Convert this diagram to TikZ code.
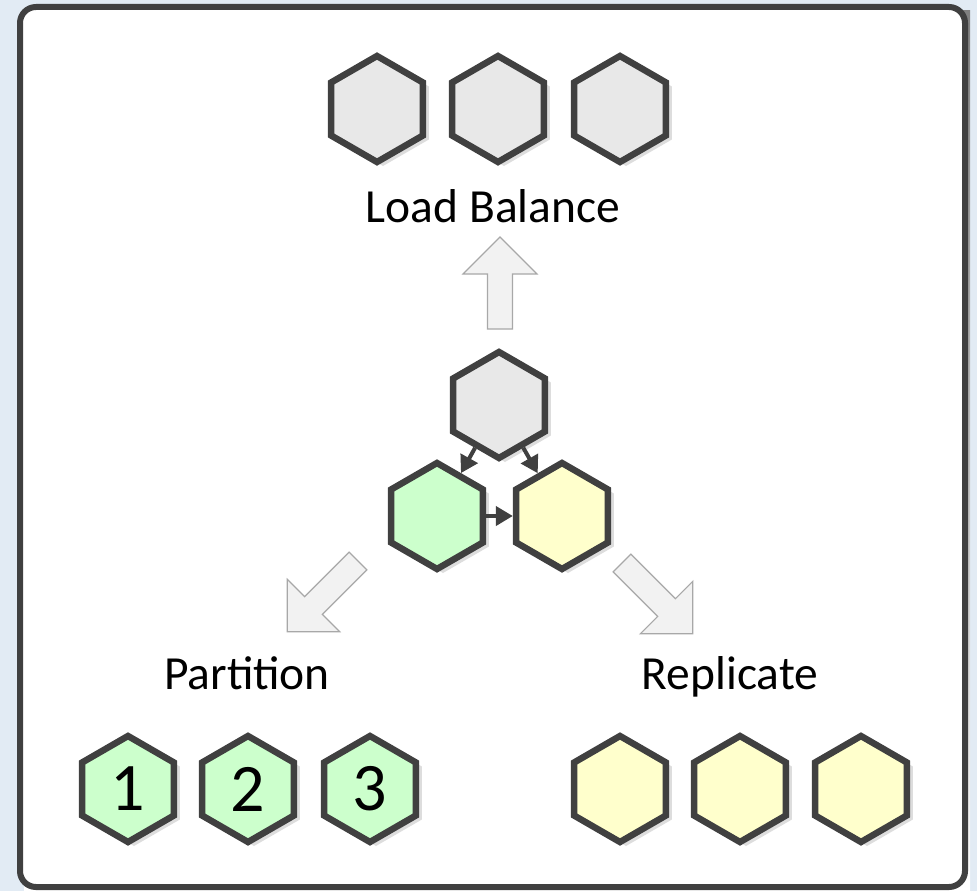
\documentclass[tikz,border=0pt]{standalone}
\usepackage{fontspec}
\setmainfont{Carlito}
\usetikzlibrary{shapes.geometric,arrows.meta,shadows}

\definecolor{pagebg}{HTML}{E2EBF4}
\definecolor{edge}{HTML}{404040}
\definecolor{hexgray}{HTML}{E8E8E8}
\definecolor{hexgreen}{HTML}{CCFFCC}
\definecolor{hexyellow}{HTML}{FFFFCC}
\definecolor{bigfill}{HTML}{F2F2F2}
\definecolor{bigline}{HTML}{A8A8A8}
\definecolor{shade}{HTML}{DDDDDD}

\begin{document}
\begin{tikzpicture}[x=1pt,y=-1pt,
  hex/.style={regular polygon, regular polygon sides=6, shape border rotate=30,
    minimum size=106pt, inner sep=0pt, draw=edge, line width=6.5pt,
    drop shadow={shadow xshift=6pt, shadow yshift=-4pt, fill=shade, opacity=1}},
  hexgr/.style={hex, fill=hexgray},
  hexgn/.style={hex, fill=hexgreen},
  hexyl/.style={hex, fill=hexyellow},
  digit/.style={font=\fontsize{68}{76}\selectfont},
  link/.style={draw=edge, line width=4pt, -{Triangle[length=17pt,width=19pt]}},
  tagtext/.style={font=\fontsize{47.5}{56}\selectfont, anchor=base, inner sep=0pt},
  bigarrow/.style={fill=bigfill, draw=bigline, line width=1.2pt, line join=miter}
]
\useasboundingbox (0,0) rectangle (977,891);
\fill[pagebg] (0,0) rectangle (977,891);

% outer panel
\fill[shade] (24,11) rectangle (970,891);
\draw[edge, line width=6pt, fill=white, rounded corners=16pt] (20,7) rectangle (965,887);

% load balance row
\node[hexgr] (lb1) at (377,109) {};
\node[hexgr] (lb2) at (498,109) {};
\node[hexgr] (lb3) at (620,109) {};
\node[tagtext] (lbtext) at (493,222) {Load Balance};

% central cluster
\node[hexgr] (src) at (499,405) {};
\node[hexgn] (part) at (437,516) {};
\node[hexyl] (repl) at (562,516) {};
\draw[link] (src) -- (part);
\draw[link] (src) -- (repl);
\draw[link] (part) -- (repl);

% big direction arrows
\draw[bigarrow] (487.5,329) -- (512.5,329) -- (512.5,274) -- (537,274)
  -- (500,237) -- (463,274) -- (487.5,274) -- cycle;
\begin{scope}[shift={(358,561)}, rotate=135]
  \draw[bigarrow] (-12.5,0) -- (12.5,0) -- (12.5,-63) -- (37,-63)
    -- (0,-100) -- (-37,-63) -- (-12.5,-63) -- cycle;
\end{scope}
\begin{scope}[shift={(622,563)}, rotate=-135]
  \draw[bigarrow] (-12.5,0) -- (12.5,0) -- (12.5,-63) -- (37,-63)
    -- (0,-100) -- (-37,-63) -- (-12.5,-63) -- cycle;
\end{scope}

% partition group
\node[tagtext] (pttext) at (247,689) {Partition};
\node[hexgn, digit] (p1) at (128,789) {1};
\node[hexgn, digit] (p2) at (248,789) {2};
\node[hexgn, digit] (p3) at (370,789) {3};

% replicate group
\node[tagtext] (rptext) at (730,689) {Replicate};
\node[hexyl] (r1) at (620,789) {};
\node[hexyl] (r2) at (740,789) {};
\node[hexyl] (r3) at (861,789) {};
\end{tikzpicture}
\end{document}
